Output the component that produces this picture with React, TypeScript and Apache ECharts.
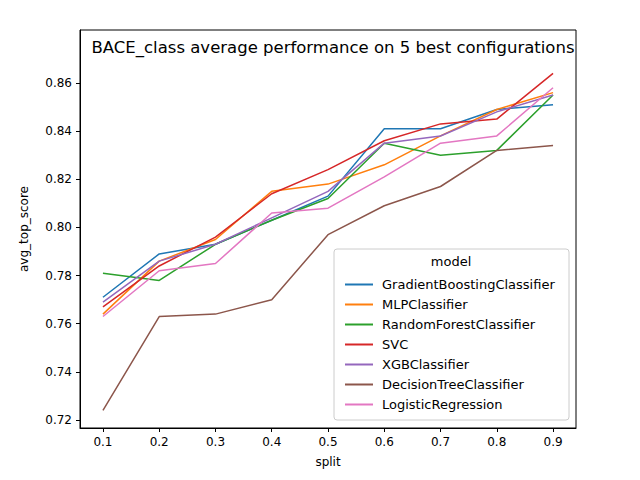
import { useEffect, useRef } from 'react'
import * as echarts from 'echarts'

const splits = [0.1, 0.2, 0.3, 0.4, 0.5, 0.6, 0.7, 0.8, 0.9]
const models = [
  'GradientBoostingClassifier',
  'MLPClassifier',
  'RandomForestClassifier',
  'SVC',
  'XGBClassifier',
  'DecisionTreeClassifier',
  'LogisticRegression'
]
const gradientBoosting = [0.771, 0.789, 0.793, 0.803, 0.813, 0.841, 0.841, 0.849, 0.851]
const mlp = [0.764, 0.786, 0.795, 0.815, 0.818, 0.826, 0.838, 0.849, 0.856]
const randomForest = [0.781, 0.778, 0.793, 0.803, 0.812, 0.835, 0.830, 0.832, 0.855]
const svc = [0.767, 0.784, 0.796, 0.814, 0.824, 0.836, 0.843, 0.845, 0.864]
const xgb = [0.769, 0.786, 0.793, 0.804, 0.815, 0.835, 0.838, 0.848, 0.855]
const decisionTree = [0.724, 0.763, 0.764, 0.770, 0.797, 0.809, 0.817, 0.832, 0.834]
const logistic = [0.763, 0.782, 0.785, 0.806, 0.808, 0.821, 0.835, 0.838, 0.858]
const seriesValues = [gradientBoosting, mlp, randomForest, svc, xgb, decisionTree, logistic]
const colors = ['#1f77b4', '#ff7f0e', '#2ca02c', '#d62728', '#9467bd', '#8c564b', '#e377c2']
const xTicks = [0.1, 0.2, 0.3, 0.4, 0.5, 0.6, 0.7, 0.8, 0.9]
const yTicks = [0.72, 0.74, 0.76, 0.78, 0.8, 0.82, 0.84, 0.86]

const font = 'DejaVu Sans'

export default function App() {
  const chartRef = useRef<HTMLDivElement>(null)

  useEffect(() => {
    if (!chartRef.current) return
    const chart = echarts.init(chartRef.current, null, { renderer: 'svg' })
    const axisCommon = {
      axisLine: { show: true, onZero: false, lineStyle: { color: '#000' } },
      axisTick: { show: true, length: 4, lineStyle: { color: '#000' } },
      splitLine: { show: false },
      nameLocation: 'middle' as const,
      nameTextStyle: { color: '#000', fontSize: 12, fontFamily: font }
    }
    chart.setOption({
      animation: false,
      color: colors,
      textStyle: { fontFamily: font },
      title: {
        text: 'BACE_class average performance on 5 best configurations',
        left: 328, top: 34, textAlign: 'center',
        textStyle: { fontSize: 16.5, fontWeight: 'normal', color: '#000', fontFamily: font }
      },
      grid: { left: 80, right: 64, top: 30, bottom: 52, show: true, borderColor: '#000', borderWidth: 1 },
      xAxis: {
        ...axisCommon,
        type: 'value', min: 0.0592, max: 0.9408, name: 'split', nameGap: 28,
        axisTick: { ...axisCommon.axisTick, customValues: xTicks },
        axisLabel: { customValues: xTicks, color: '#000', fontSize: 12, fontFamily: font, formatter: (v: number) => v.toFixed(1) }
      },
      yAxis: {
        ...axisCommon,
        type: 'value', min: 0.7167, max: 0.882, name: 'avg_top_score', nameGap: 50,
        axisTick: { ...axisCommon.axisTick, customValues: yTicks },
        axisLabel: { customValues: yTicks, color: '#000', fontSize: 12, fontFamily: font, formatter: (v: number) => v.toFixed(2) }
      },
      graphic: [
        { type: 'rect', shape: { x: 334, y: 249, width: 235, height: 171, r: 3 }, style: { fill: 'rgba(255,255,255,0.8)', stroke: '#ccc', lineWidth: 1 }, z: 10 },
        { type: 'text', x: 451, y: 255, style: { text: 'model', fontSize: 13, fontFamily: font, fill: '#000', textAlign: 'center' }, z: 11 }
      ],
      legend: {
        orient: 'vertical', left: 340, top: 273, itemGap: 7, itemWidth: 28, itemHeight: 14,
        icon: 'path://M0,6h28v2h-28z', z: 12,
        textStyle: { fontSize: 13, color: '#000', fontFamily: font, padding: [0, 0, 0, 4] },
        data: models
      },
      series: models.map((name, i) => ({
        name, type: 'line', symbol: 'none', lineStyle: { width: 1.5 },
        data: splits.map((s, j) => [s, seriesValues[i][j]])
      }))
    })
    return () => chart.dispose()
  }, [])

  return <div ref={chartRef} style={{ width: 640, height: 480, margin: -8 }} />
}
